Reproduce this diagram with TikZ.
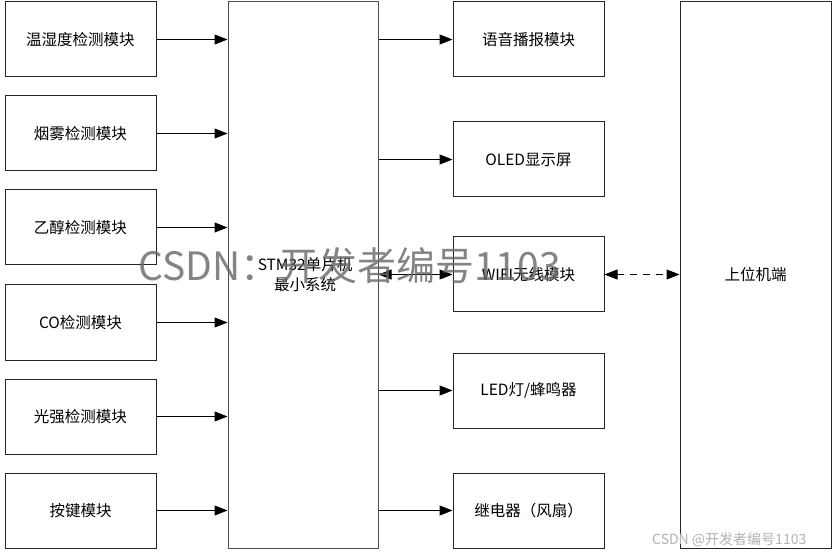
\documentclass[tikz,border=0pt]{standalone}
\usepackage{fontspec}
\setmainfont{Noto Sans CJK SC}
\usetikzlibrary{arrows.meta}
\begin{document}
\begin{tikzpicture}[x=1pt,y=-1pt,
  box/.style={draw=black!85,line width=1pt,minimum width=151pt,minimum height=75pt,inner sep=0pt,font=\fontsize{15.5}{19}\selectfont,align=center},
  conn/.style={line width=1pt,-{Triangle[length=13pt,width=10pt]}},
  bconn/.style={line width=1pt,{Triangle[length=13pt,width=10pt]}-{Triangle[length=13pt,width=10pt]}}]
\useasboundingbox[fill=white] (0,0) rectangle (836,556);
% left column
\node[box] (l1) at (80.5,39.5) {温湿度检测模块};
\node[box] (l2) at (80.5,133.5) {烟雾检测模块};
\node[box] (l3) at (80.5,227.5) {乙醇检测模块};
\node[box] (l4) at (80.5,322.5) {CO检测模块};
\node[box] (l5) at (80.5,416.5) {光强检测模块};
\node[box] (l6) at (80.5,510.5) {按键模块};
% center
\node[box,draw=black!70,minimum width=150pt,minimum height=546pt] (mcu) at (303,275) {};
\node[font=\fontsize{15.5}{20}\selectfont,align=center] (mcut) at (305,275) {STM32单片机\\最小系统};
% right column
\node[box] (r1) at (528.5,39.5) {语音播报模块};
\node[box] (r2) at (528.5,159.5) {OLED显示屏};
\node[box] (r3) at (528.5,274.5) {WIFI无线模块};
\node[box] (r4) at (528.5,390.5) {LED灯/蜂鸣器};
\node[box] (r5) at (528.5,510.5) {继电器（风扇）};
% host
\node[box,minimum height=546pt] (pc) at (755.5,275) {上位机端};
% connectors
\foreach \i in {1,...,6} \draw[conn] (l\i.east) -- (l\i.east -| mcu.west);
\foreach \i in {1,2,4,5} \draw[conn] (r\i.west -| mcu.east) -- (r\i.west);
\draw[bconn] (r3.west -| mcu.east) -- (r3.west);
\draw[bconn,dash pattern=on 7pt off 6pt] (r3.east) -- (r3.east -| pc.west);
% watermarks
\node[text=black!60,opacity=0.8,font=\fontsize{39}{40}\selectfont,anchor=west,inner sep=0pt] (wm) at (138,266) {CSDN：开发者编号1103};
\node[text=black!30,font=\fontsize{14}{16}\selectfont,anchor=west,inner sep=0pt] (wm2) at (652,540) {CSDN @开发者编号1103};
\end{tikzpicture}
\end{document}
